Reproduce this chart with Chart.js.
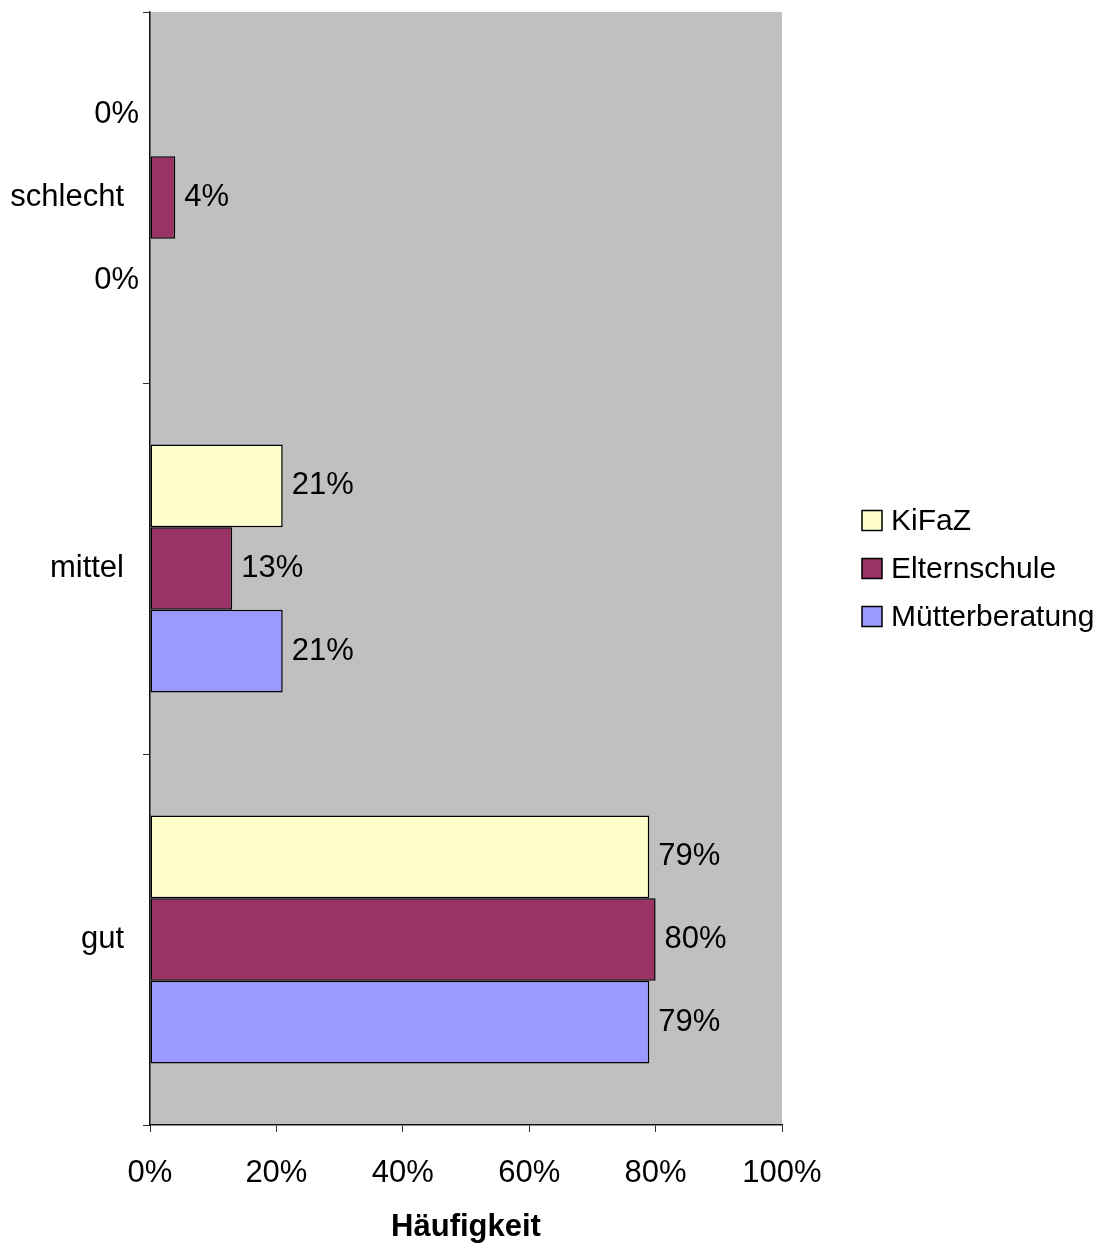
<!DOCTYPE html>
<html>
<head>
<meta charset="utf-8">
<script src="https://cdn.jsdelivr.net/npm/chart.js@4"></script>
<style>
  body { margin: 0; background: #fff; }
  canvas { display: block; }
</style>
</head>
<body>
<canvas id="chart" width="1104" height="1246"></canvas>
<script>
// Data
const categories = ['schlecht', 'mittel', 'gut'];
const seriesNames = ['KiFaZ', 'Elternschule', 'Mütterberatung'];
const kifazValues = [0, 21, 79];
const elternValues = [4, 13, 80];
const muetterValues = [0, 21, 79];
const xTicks = [0, 20, 40, 60, 80, 100];
const seriesColors = ['#FFFFCC', '#993366', '#9999FF'];

const FONT = "'Liberation Sans', Arial, sans-serif";
Chart.defaults.font.family = FONT;
Chart.defaults.color = '#000';

// gray plot background
const plotBg = {
    id: 'plotBg',
    beforeDraw(chart) {
        const a = chart.chartArea;
        const ctx = chart.ctx;
        ctx.save();
        ctx.fillStyle = '#C0C0C0';
        ctx.fillRect(a.left, a.top, a.right - a.left, a.bottom - a.top);
        ctx.restore();
    }
};

// value labels next to bar ends
const valueLabels = {
    id: 'valueLabels',
    afterDatasetsDraw(chart) {
        const ctx = chart.ctx;
        ctx.save();
        ctx.font = '31px ' + FONT;
        ctx.fillStyle = '#000';
        ctx.textBaseline = 'middle';
        chart.data.datasets.forEach((ds, i) => {
            chart.getDatasetMeta(i).data.forEach((bar, j) => {
                const v = ds.data[j];
                if (v === 0) {
                    ctx.textAlign = 'right';
                    ctx.fillText(v + '%', bar.base - 11, bar.y);
                } else {
                    ctx.textAlign = 'left';
                    ctx.fillText(v + '%', bar.x + 9, bar.y);
                }
            });
        });
        ctx.restore();
    }
};

// legend drawn to the right of the plot
const sideLegend = {
    id: 'sideLegend',
    afterDraw(chart) {
        const ctx = chart.ctx;
        const a = chart.chartArea;
        const x = a.right + 80;
        const rowH = 48;
        const midY = (a.top + a.bottom) / 2;
        const n = chart.data.datasets.length;
        ctx.save();
        ctx.font = '30px ' + FONT;
        ctx.textBaseline = 'middle';
        ctx.textAlign = 'left';
        chart.data.datasets.forEach((ds, i) => {
            const y = midY + (i - (n - 1) / 2) * rowH;
            ctx.fillStyle = ds.backgroundColor;
            ctx.fillRect(x, y - 10, 20, 20);
            ctx.strokeStyle = '#000';
            ctx.lineWidth = 1.5;
            ctx.strokeRect(x, y - 10, 20, 20);
            ctx.fillStyle = '#000';
            ctx.fillText(ds.label, x + 29, y + 1);
        });
        ctx.restore();
    }
};

new Chart(document.getElementById('chart'), {
    type: 'bar',
    data: {
        labels: categories,
        datasets: [
            { label: seriesNames[0], data: kifazValues, backgroundColor: seriesColors[0] },
            { label: seriesNames[1], data: elternValues, backgroundColor: seriesColors[1] },
            { label: seriesNames[2], data: muetterValues, backgroundColor: seriesColors[2] }
        ].map(d => Object.assign(d, { borderColor: '#000', borderWidth: 1.5, borderSkipped: false }))
    },
    options: {
        indexAxis: 'y',
        responsive: false,
        animation: false,
        layout: { padding: { top: 12, right: 322, bottom: 0, left: 0 } },
        datasets: { bar: { categoryPercentage: 0.668, barPercentage: 1 } },
        plugins: {
            legend: { display: false },
            tooltip: { enabled: false }
        },
        scales: {
            x: {
                min: 0,
                max: 100,
                afterBuildTicks(scale) {
                    scale.ticks = xTicks.map(v => ({ value: v }));
                },
                afterFit(scale) {
                    scale.height = 121;
                    scale.paddingLeft = 0;
                    scale.paddingRight = 0;
                },
                ticks: {
                    font: { size: 31 },
                    color: '#000',
                    padding: 23,
                    maxRotation: 0,
                    callback: v => v + '%'
                },
                grid: {
                    drawOnChartArea: false,
                    tickLength: 7,
                    color: '#333'
                },
                border: { color: '#111', width: 1.5 },
                title: {
                    display: true,
                    text: 'Häufigkeit',
                    font: { size: 31, weight: 'bold' },
                    color: '#000',
                    padding: { top: 0, bottom: 0 }
                }
            },
            y: {
                offset: true,
                afterFit(scale) {
                    scale.width = 150;
                    scale.paddingTop = 0;
                    scale.paddingBottom = 0;
                },
                ticks: {
                    font: { size: 31 },
                    color: '#000',
                    padding: 19
                },
                grid: {
                    offset: true,
                    drawOnChartArea: false,
                    tickLength: 7,
                    color: '#333'
                },
                border: { color: '#111', width: 1.5 }
            }
        }
    },
    plugins: [plotBg, valueLabels, sideLegend]
});
</script>
</body>
</html>
